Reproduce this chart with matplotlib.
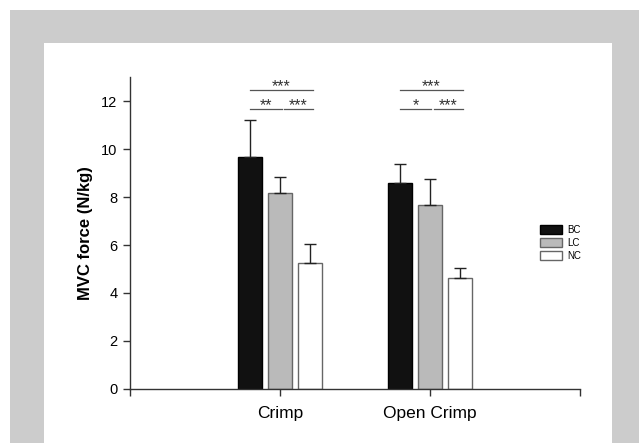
import matplotlib
matplotlib.use("Agg")
import matplotlib.pyplot as plt
from matplotlib.patches import Rectangle
import numpy as np

plt.rcParams['font.family'] = ['Liberation Sans', 'DejaVu Sans']

categories = ["Crimp", "Open Crimp"]
groups = ["BC", "LC", "NC"]
means = {
    "BC": [9.65, 8.60],
    "LC": [8.15, 7.65],
    "NC": [5.27, 4.64],
}
upper_err = {
    "BC": [1.55, 0.78],
    "LC": [0.68, 1.11],
    "NC": [0.77, 0.41],
}
# significance: (category index, from group idx, to group idx, label, level)
sig = [
    (0, 0, 2, "***", "top"), (0, 0, 1, "**", "low"), (0, 1, 2, "***", "low"),
    (1, 0, 2, "***", "top"), (1, 0, 1, "*", "low"), (1, 1, 2, "***", "low"),
]
sig_y = {"top": 12.46, "low": 11.68}

W, H = 639, 443
fig = plt.figure(figsize=(W / 100, H / 100), dpi=100)
fig.patch.set_facecolor("white")
fig.patches.append(Rectangle((10 / W, 0), (W - 10) / W, (H - 10) / H,
                             transform=fig.transFigure, facecolor="#cccccc",
                             edgecolor="none", zorder=-10))
fig.patches.append(Rectangle((43.5 / W, 0), (612 - 43.5) / W, (H - 43) / H,
                             transform=fig.transFigure, facecolor="white",
                             edgecolor="none", zorder=-9))

ax = fig.add_axes([130 / W, 1 - 389 / H, (580 - 130) / W, (389 - 77) / H])
ax.set_facecolor("none")

x = np.arange(1, len(categories) + 1)
width = 0.16
offsets = [-0.2, 0.0, 0.2]
face = {"BC": "#111111", "LC": "#bababa", "NC": "#ffffff"}
edge = {"BC": "#000000", "LC": "#666666", "NC": "#666666"}

for g, off in zip(groups, offsets):
    m = np.array(means[g])
    e = np.array(upper_err[g])
    ax.bar(x + off, m, width, color=face[g], edgecolor=edge[g], linewidth=1.0,
           label=g, zorder=2)
    ax.errorbar(x + off, m, yerr=[np.zeros_like(e), e], fmt="none",
                ecolor="#222222", elinewidth=1.0, capsize=4, capthick=1.0, zorder=3)

for ci, a, b, lab, lvl in sig:
    x0 = x[ci] + offsets[a]
    x1 = x[ci] + offsets[b]
    y = sig_y[lvl]
    if lvl == "low":
        if a == 0:
            x1 -= 0.01
        else:
            x0 += 0.025
    ax.plot([x0, x1 + 0.02], [y, y], color="#555555", lw=0.9, zorder=3)
    ax.text((x0 + x1 + 0.02) / 2, y - 0.06, lab, ha="center", va="baseline",
            fontsize=11.5, color="#333333")

ax.set_xlim(0, 3)
ax.set_ylim(0, 13)
ax.set_yticks(np.arange(0, 13, 2))
ax.set_xticks([0, 1, 2, 3])
ax.set_xticklabels(["", categories[0], categories[1], ""], fontsize=12.5)
ax.tick_params(axis="y", labelsize=10.5, length=5, width=1, pad=4, color="#333333")
ax.tick_params(axis="x", length=5, width=1, pad=7, color="#333333")
for s in ["top", "right"]:
    ax.spines[s].set_visible(False)
for s in ["left", "bottom"]:
    ax.spines[s].set_color("#333333")
    ax.spines[s].set_linewidth(1.0)

ax.set_ylabel("MVC force (N/kg)", fontsize=12, fontweight="bold")
ax.yaxis.set_label_coords(-0.082, 0.5)

leg = ax.legend(loc="upper left", bbox_to_anchor=(540 / W, 1 - 225 / H),
                bbox_transform=fig.transFigure, frameon=False, fontsize=7,
                handlelength=2.3, handleheight=0.95, labelspacing=0.3,
                handletextpad=0.5, borderpad=0, borderaxespad=0)

fig.savefig("out.png", dpi=100)
